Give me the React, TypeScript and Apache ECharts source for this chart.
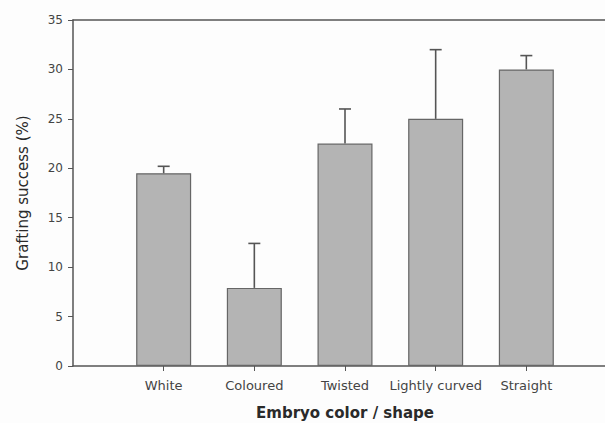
import React, { useEffect, useRef } from "react";
import * as echarts from "echarts";

const categories = ["", "White", "Coloured", "Twisted", "Lightly curved", "Straight", ""];
const means = [null, 19.5, 7.9, 22.5, 25.0, 30.0, null];
const upperErrors = [null, 20.2, 12.4, 26.0, 32.0, 31.4, null];
const yTicks = { min: 0, max: 35, interval: 5 };

const FONT = "DejaVu Sans, Liberation Sans, Arial";

export default function App() {
  const ref = useRef<HTMLDivElement>(null);
  useEffect(() => {
    if (!ref.current) return;
    const chart = echarts.init(ref.current, null, { renderer: "svg" });
    const errData = means
      .map((m, i) => (m == null ? null : [i, m, upperErrors[i]]))
      .filter((d) => d != null);
    const labelShow = (idx: number, val: string) => val !== "";
    chart.setOption({
      animation: false,
      backgroundColor: "#fdfdfd",
      grid: { left: 73, top: 20, width: 544, height: 346, outerBoundsMode: "none", containLabel: false },
      xAxis: [
        {
          type: "category",
          data: categories,
          boundaryGap: false,
          name: "Embryo color / shape",
          nameLocation: "middle",
          nameGap: 39,
          nameTextStyle: { fontFamily: FONT, fontSize: 15, fontWeight: "bold", color: "#2a2a2a" },
          axisLine: { show: true, lineStyle: { color: "#555", width: 1.5 } },
          axisTick: { show: true, inside: false, length: 5, interval: labelShow, lineStyle: { color: "#555" } },
          axisLabel: {
            interval: labelShow,
            margin: 13,
            fontFamily: FONT,
            fontSize: 13,
            color: "#444",
          },
          splitLine: { show: false },
        },
        {
          type: "category",
          data: categories,
          boundaryGap: false,
          position: "top",
          axisLine: { show: true, lineStyle: { color: "#555", width: 1.5 } },
          axisTick: { show: false },
          axisLabel: { show: false },
          splitLine: { show: false },
        },
      ],
      yAxis: {
        type: "value",
        min: yTicks.min,
        max: yTicks.max,
        interval: yTicks.interval,
        name: "Grafting success (%)",
        nameLocation: "middle",
        nameGap: 43,
        nameTextStyle: { fontFamily: FONT, fontSize: 15, color: "#2a2a2a" },
        axisLine: { show: true, lineStyle: { color: "#555", width: 1.5 } },
        axisTick: { show: true, inside: false, length: 5, lineStyle: { color: "#555" } },
        axisLabel: { margin: 10, fontFamily: FONT, fontSize: 12, color: "#444" },
        splitLine: { show: false },
      },
      series: [
        {
          type: "bar",
          data: means.map((v) => (v == null ? "-" : v)),
          barWidth: 55,
          itemStyle: { color: "#b4b4b4", borderColor: "#666", borderWidth: 1.2 },
        },
        {
          type: "custom",
          data: errData,
          renderItem: (params: any, api: any) => {
            const x = api.value(0);
            const top = api.coord([x, api.value(2)]);
            const base = api.coord([x, api.value(1)]);
            const style = { stroke: "#555", lineWidth: 1.6 };
            return {
              type: "group",
              children: [
                { type: "line", shape: { x1: base[0], y1: base[1], x2: top[0], y2: top[1] }, style },
                { type: "line", shape: { x1: top[0] - 6, y1: top[1], x2: top[0] + 6, y2: top[1] }, style },
              ],
            };
          },
          z: 3,
        },
      ],
    });
    return () => chart.dispose();
  }, []);
  return (
    <div
      ref={ref}
      style={{ position: "absolute", left: 0, top: 0, width: 605, height: 423 }}
    />
  );
}
